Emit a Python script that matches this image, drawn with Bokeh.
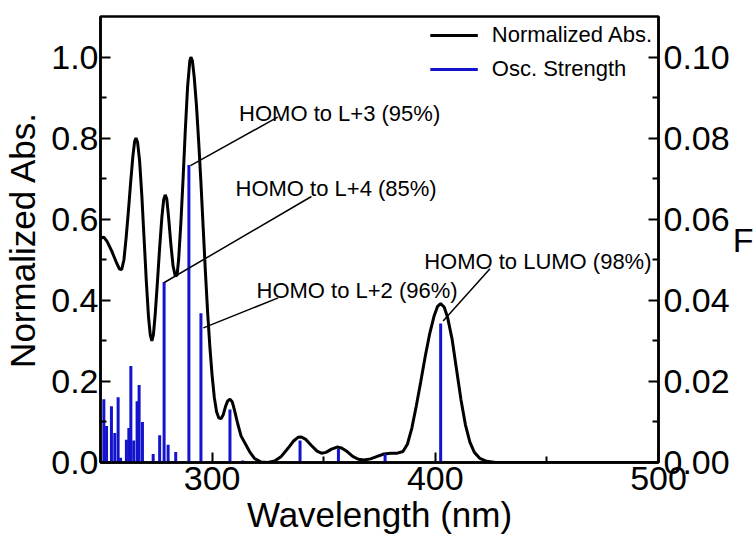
from bokeh.plotting import figure
from bokeh.models import Range1d, LinearAxis, FixedTicker, PrintfTickFormatter, Label, Legend, LegendItem
from bokeh.embed import file_html
from bokeh.resources import INLINE

# ---------------- data ----------------
wavelength = [250.0, 251.5, 253.0, 255.0, 257.0, 258.5, 259.5, 260.5, 261.5, 262.5, 263.5, 264.5,
              265.3, 265.9, 266.6, 267.5, 268.5, 269.5, 270.5, 271.5, 272.3, 273.0, 273.7, 274.5,
              275.5, 276.5, 277.5, 278.3, 279.0, 279.7, 280.5, 281.5, 282.5, 283.5, 284.3, 285.0,
              286.0, 287.0, 288.0, 289.0, 290.0, 290.5, 291.2, 292.0, 293.0, 294.0, 295.0, 296.0,
              297.0, 298.0, 299.0, 300.0, 301.0, 302.0, 303.0, 304.0, 305.0, 306.0, 307.0, 308.0,
              309.0, 310.0, 311.5, 313.0, 315.0, 317.0, 319.0, 322.0, 325.0, 328.0, 331.0, 334.0,
              336.5, 338.5, 340.0, 342.0, 344.5, 347.0, 349.0, 351.0, 353.5, 356.0, 358.0, 360.5,
              363.0, 365.5, 368.0, 371.0, 374.0, 377.0, 380.0, 383.0, 385.5, 387.5, 389.5, 391.5,
              393.5, 395.5, 397.5, 399.5, 401.0, 402.4, 404.0, 405.5, 407.5, 409.5, 411.5, 413.5,
              415.5, 417.5, 420.0, 423.0, 427.0, 500.0]
absorbance = [0.553, 0.556, 0.545, 0.522, 0.495, 0.477, 0.476, 0.500, 0.555, 0.620, 0.690, 0.755,
              0.792, 0.800, 0.790, 0.745, 0.660, 0.555, 0.450, 0.360, 0.315, 0.300, 0.315, 0.365,
              0.445, 0.530, 0.605, 0.648, 0.660, 0.650, 0.605, 0.540, 0.485, 0.460, 0.462, 0.500,
              0.590, 0.700, 0.820, 0.925, 0.990, 1.000, 0.990, 0.950, 0.880, 0.790, 0.690, 0.580,
              0.470, 0.370, 0.285, 0.215, 0.160, 0.125, 0.110, 0.108, 0.118, 0.138, 0.152, 0.156,
              0.150, 0.130, 0.095, 0.065, 0.045, 0.025, 0.010, 0.001, 0.000, 0.004, 0.015, 0.035,
              0.053, 0.062, 0.063, 0.057, 0.042, 0.028, 0.023, 0.025, 0.033, 0.038, 0.036, 0.027,
              0.015, 0.008, 0.006, 0.009, 0.015, 0.021, 0.023, 0.023, 0.027, 0.045, 0.085, 0.140,
              0.200, 0.262, 0.318, 0.362, 0.385, 0.392, 0.383, 0.358, 0.305, 0.230, 0.155, 0.093,
              0.050, 0.025, 0.010, 0.003, 0.000, 0.000]

bar_wl = [251.5, 252.7, 254.9, 256.4, 257.9, 259.0, 261.6, 262.7, 263.6, 264.9, 266.4, 267.3,
          268.8, 273.6, 276.5, 278.5, 280.3, 283.7, 289.6, 295.0, 308.0, 313.7, 339.4, 356.6,
          377.5, 402.4]
osc_strength = [0.0156, 0.0090, 0.0139, 0.0073, 0.0161, 0.0012, 0.0056, 0.0085, 0.0238, 0.0054,
                0.0151, 0.0191, 0.0100, 0.0021, 0.0067, 0.0445, 0.0044, 0.0026, 0.0734, 0.0368,
                0.0131, 0.0005, 0.0054, 0.0033, 0.0021, 0.0343]

x_major = [300, 400, 500]
x_minor = [250, 350, 450]
left_major = [0.0, 0.2, 0.4, 0.6, 0.8, 1.0]
left_minor = [0.1, 0.3, 0.5, 0.7, 0.9]
right_major = [0.00, 0.02, 0.04, 0.06, 0.08, 0.10]
right_minor = [0.01, 0.03, 0.05, 0.07, 0.09]

ann_labels = ["HOMO to L+3 (95%)", "HOMO to L+4 (85%)", "HOMO to L+2 (96%)", "HOMO to LUMO (98%)"]
ann_bar_index = [18, 15, 19, 25]

FONT = "Liberation Sans"
BLUE = "#1414CC"
SCALE = 10.0  # left axis units per right-axis unit

p = figure(width=756, height=536, x_range=Range1d(250, 500), y_range=Range1d(0, 1.1),
           output_backend="svg", toolbar_location=None,
           min_border_left=100, min_border_right=95, min_border_top=16, min_border_bottom=74)
p.extra_y_ranges = {"f": Range1d(0, 0.11)}
p.xgrid.visible = False
p.ygrid.visible = False
p.outline_line_color = "black"
p.outline_line_width = 2.5
p.background_fill_color = "white"
p.border_fill_color = "white"


def style_axis(ax, major, minor, fmt, standoff):
    ax.ticker = FixedTicker(ticks=major, minor_ticks=minor)
    ax.formatter = PrintfTickFormatter(format=fmt)
    ax.axis_line_color = "black"
    ax.axis_line_width = 2.5
    ax.major_tick_in = 10
    ax.major_tick_out = 0
    ax.minor_tick_in = 6
    ax.minor_tick_out = 0
    ax.major_tick_line_width = 2
    ax.minor_tick_line_width = 2
    ax.major_tick_line_color = "black"
    ax.minor_tick_line_color = "black"
    ax.major_label_text_font = FONT
    ax.major_label_text_font_size = "34px"
    ax.major_label_text_color = "black"
    ax.major_label_standoff = standoff
    ax.axis_label_text_font = FONT
    ax.axis_label_text_font_style = "normal"
    ax.axis_label_text_color = "black"


style_axis(p.xaxis[0], x_major, x_minor, "%d", 4)
p.xaxis[0].axis_label = "Wavelength (nm)"
p.xaxis[0].axis_label_text_font_size = "35px"
p.xaxis[0].axis_label_standoff = 2

style_axis(p.yaxis[0], left_major, left_minor, "%.1f", 2)
p.yaxis[0].axis_label = "Normalized Abs."
p.yaxis[0].axis_label_text_font_size = "35px"
p.yaxis[0].axis_label_standoff = 6

right_axis = LinearAxis(y_range_name="f")
style_axis(right_axis, right_major, right_minor, "%.2f", 5)
right_axis.axis_label = "F"
right_axis.axis_label_orientation = "horizontal"
right_axis.axis_label_text_font_size = "34px"
right_axis.axis_label_standoff = 0
p.add_layout(right_axis, "right")

# glyphs
r_abs = p.line(wavelength, absorbance, line_color="black", line_width=3)
r_osc = p.segment(x0=bar_wl, y0=[0] * len(bar_wl), x1=bar_wl, y1=osc_strength,
                  y_range_name="f", line_color=BLUE, line_width=3)

# annotations with leader lines (start at bar tops, end near labels)
text_pos = [(312.1, 0.860), (310.5, 0.677), (319.9, 0.425), (395.0, 0.495)]
start_off = [(0.7, -0.002), (0.1, -0.001), (1.1, -0.036), (1.1, 0.006)]
line_end = [(329.4, 0.852), (344.5, 0.656), (329.6, 0.406), (424.5, 0.478)]
x0s, y0s, x1s, y1s = [], [], [], []
for lab, bi, tp, so, le in zip(ann_labels, ann_bar_index, text_pos, start_off, line_end):
    x0s.append(bar_wl[bi] + so[0])
    y0s.append(osc_strength[bi] * SCALE + so[1])
    x1s.append(le[0])
    y1s.append(le[1])
    p.add_layout(Label(x=tp[0], y=tp[1], text=lab, text_font=FONT, text_font_size="22px",
                       text_color="black", text_baseline="alphabetic", text_align="left"))
p.segment(x0=x0s, y0=y0s, x1=x1s, y1=y1s, line_color="black", line_width=1.5)

legend = Legend(items=[LegendItem(label="Normalized Abs.", renderers=[r_abs]),
                       LegendItem(label="Osc. Strength", renderers=[r_osc])],
                location="top_right", background_fill_alpha=0, border_line_alpha=0,
                label_text_font=FONT, label_text_font_size="22px", label_text_color="black",
                glyph_width=48, glyph_height=20,
                label_standoff=14, spacing=8, padding=6, margin=0)
p.add_layout(legend)

open("out.html", "w").write(file_html(p, INLINE))
